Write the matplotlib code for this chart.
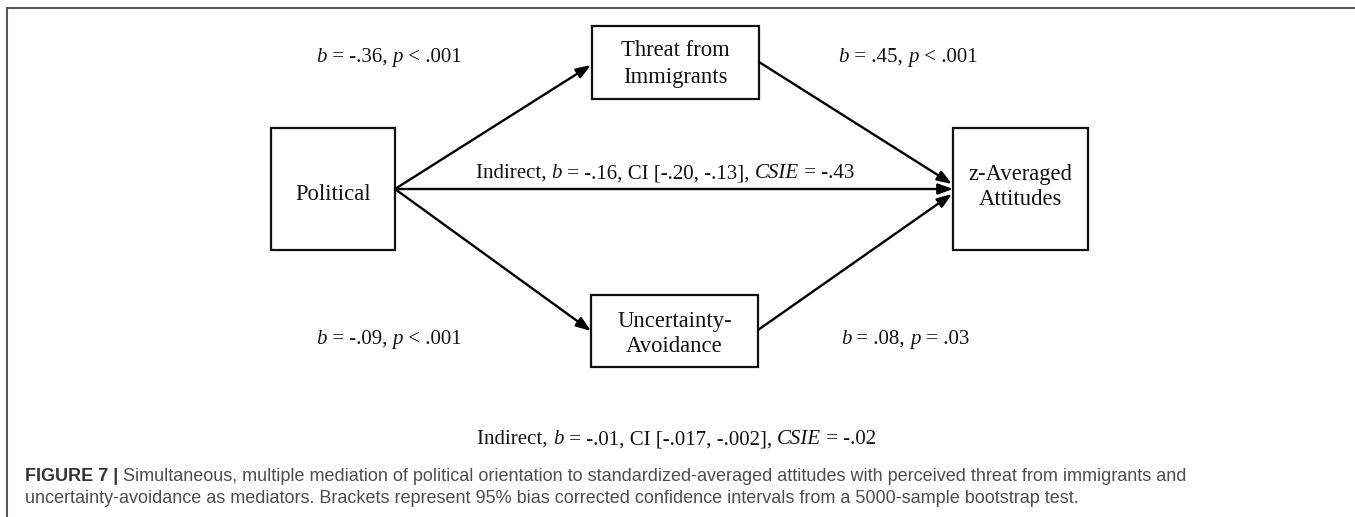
import matplotlib
matplotlib.use("Agg")
import matplotlib.pyplot as plt
from matplotlib.patches import Rectangle

plt.rcParams['font.family'] = 'Liberation Serif'

# node labels (one list per box, one entry per text line)
nodes = [["Political"], ["Threat from", "Immigrants"], ["Uncertainty-", "Avoidance"],
         ["z-Averaged", "Attitudes"]]
# path labels, *...* marks italic
path_a1 = "*b* = -.36, *p* < .001"
path_b1 = "*b* = .45, *p* < .001"
path_a2 = "*b* = -.09, *p* < .001"
path_b2 = "*b* = .08, *p* = .03"
indirect1 = "Indirect, *b* = -.16, CI [-.20, -.13], *CSIE* = -.43"
indirect2 = "Indirect, *b* = -.01, CI [-.017, -.002], *CSIE* = -.02"
cap_bold = "FIGURE 7 | "
cap_line1 = ("Simultaneous, multiple mediation of political orientation to standardized-averaged "
             "attitudes with perceived threat from immigrants and")
cap_line2 = ("uncertainty-avoidance as mediators. Brackets represent 95% bias corrected confidence "
             "intervals from a 5000-sample bootstrap test.")

# layout in pixel coords (x0, y0, x1, y1) and text baselines per box
boxes = [(271, 128, 395, 250), (592, 26, 759, 99), (591, 295, 758, 367), (953, 128, 1088, 250)]
baselines = [[200], [56, 83], [327, 352], [180, 205]]

fig = plt.figure(figsize=(13.55, 5.17), dpi=100)
ax = fig.add_axes([0, 0, 1, 1])
ax.set_xlim(0, 1355)
ax.set_ylim(517, 0)
ax.axis('off')
renderer = fig.canvas.get_renderer()


def text_width(s, **kw):
    # width including spaces: measure between two bars
    a = ax.text(0, 0, "|" + s + "|", **kw)
    b = ax.text(0, 0, "||", **kw)
    w = a.get_window_extent(renderer).width - b.get_window_extent(renderer).width
    a.remove()
    b.remove()
    return w


def rich(x, y, s, fs, ha='center'):
    segs = s.split('*')
    parts = []
    for i, seg in enumerate(segs):
        if seg:
            st = 'italic' if i % 2 else 'normal'
            parts.append((seg, st, text_width(seg, fontsize=fs, style=st)))
    total = sum(p[2] for p in parts)
    cx = x - total / 2 if ha == 'center' else x
    for seg, st, w in parts:
        ax.text(cx, y, seg, fontsize=fs, style=st, ha='left', va='baseline', color='#111111')
        cx += w


# frame
ax.plot([7, 7, 1355], [517, 8, 8], color='#555555', lw=1.5, solid_joinstyle='miter')

for (x0, y0, x1, y1), lines, ys in zip(boxes, nodes, baselines):
    ax.add_patch(Rectangle((x0, y0), x1 - x0, y1 - y0, fill=False, ec='#111111', lw=1.6))
    for s, yb in zip(lines, ys):
        ax.text((x0 + x1) / 2, yb, s, ha='center', va='baseline',
                fontsize=16.3, color='#111111')


def arrow(p, q):
    ax.annotate("", xy=q, xytext=p,
                arrowprops=dict(arrowstyle='-|>,head_length=0.55,head_width=0.2', lw=1.7,
                                color='black', mutation_scale=16, shrinkA=0, shrinkB=0))


arrow((395, 189), (591, 65))
arrow((395, 189), (591, 331))
arrow((395, 189), (953, 189))
arrow((759, 62), (952, 184))
arrow((758, 330), (952, 194))

fs = 15
rich(389, 62, path_a1, fs)
rich(908, 62, path_b1, fs)
rich(389, 344, path_a2, fs)
rich(905, 344, path_b2, fs)
rich(665, 178, indirect1, fs)
rich(677, 444, indirect2, fs)

# caption
cfs = 13
wb = text_width(cap_bold, fontsize=cfs, fontweight='bold', family='Liberation Sans')
ax.text(25, 481, cap_bold, ha='left', va='baseline', fontsize=cfs, fontweight='bold',
        family='Liberation Sans', color='#333333')
ax.text(25 + wb, 481, cap_line1, ha='left', va='baseline', fontsize=cfs,
        family='Liberation Sans', color='#4d4d4d')
ax.text(25, 503, cap_line2, ha='left', va='baseline', fontsize=cfs,
        family='Liberation Sans', color='#4d4d4d')

fig.savefig("out.png", dpi=100)
